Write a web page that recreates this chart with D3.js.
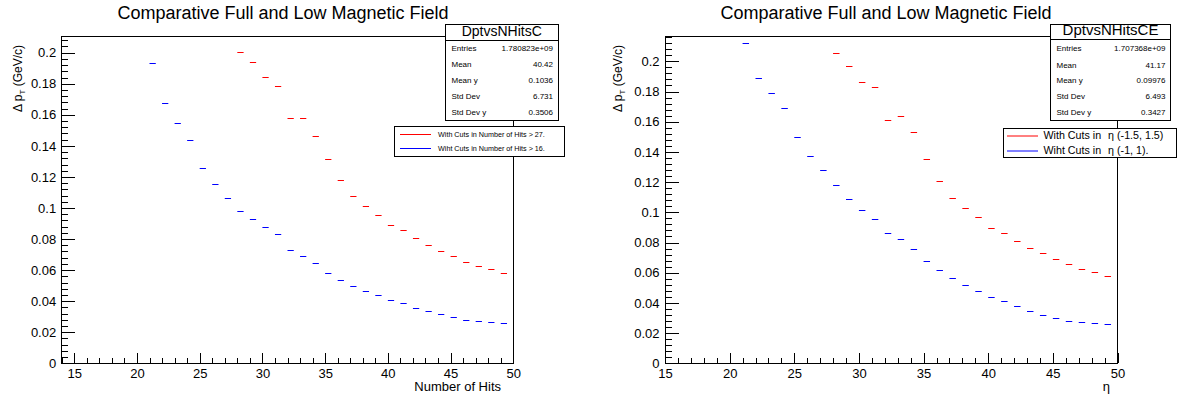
<!DOCTYPE html>
<html><head><meta charset="utf-8">
<script src="https://cdn.jsdelivr.net/npm/d3@7"></script>
<style>
body{margin:0;background:#fff}
svg{display:block}
text{font-family:"Liberation Sans",Arial,Helvetica,sans-serif;fill:#000}
</style>
</head><body>
<svg id="c" width="1177" height="401"></svg>
<script>
// ---------------- DATA ----------------
const blueBins = [21,22,23,24,25,26,27,28,29,30,31,32,33,34,35,36,37,38,39,40,41,42,43,44,45,46,47,48,49];
const redBins  = [28,29,30,31,32,33,34,35,36,37,38,39,40,41,42,43,44,45,46,47,48,49];
const binWidth = 0.5;

const leftBlue = [0.1931,0.1673,0.1546,0.1441,0.1260,0.1155,0.1066,0.0978,0.0931,0.0877,0.0830,0.0731,0.0694,0.0643,0.0581,0.0535,0.0497,0.0465,0.0439,0.0410,0.0387,0.0359,0.0335,0.0316,0.0297,0.0277,0.0271,0.0265,0.0260];
const leftRed  = [0.2002,0.1937,0.1845,0.1785,0.1581,0.1581,0.1466,0.1314,0.1181,0.1077,0.1013,0.0957,0.0890,0.0858,0.0806,0.0759,0.0726,0.0692,0.0652,0.0628,0.0606,0.0581];

const rightBlue = [0.2123,0.1887,0.1790,0.1693,0.1497,0.1371,0.1282,0.1178,0.1090,0.1013,0.0956,0.0861,0.0821,0.0759,0.0677,0.0616,0.0563,0.0521,0.0477,0.0439,0.0411,0.0377,0.0348,0.0320,0.0302,0.0282,0.0272,0.0267,0.0262];
const rightRed  = [0.2055,0.1967,0.1865,0.1832,0.1611,0.1640,0.1530,0.1353,0.1205,0.1095,0.1026,0.0967,0.0898,0.0865,0.0812,0.0764,0.0730,0.0693,0.0656,0.0625,0.0603,0.0576];

const xMajorTicks = [15,20,25,30,35,40,45,50];
const yMajorTicks = [0,0.02,0.04,0.06,0.08,0.1,0.12,0.14,0.16,0.18,0.2];

const chartTitle = "Comparative Full and Low Magnetic Field";
const statLabels = ["Entries","Mean","Mean y","Std Dev","Std Dev y"];
const leftStats  = ["1.780823e+09","40.42","0.1036","6.731","0.3506"];
const rightStats = ["1.707368e+09","41.17","0.09976","6.493","0.3427"];

// ---------------- DRAW ----------------
const svg = d3.select('#c');
const FONT = '"Liberation Sans",Arial,Helvetica,sans-serif';

function panel(cfg){
  const g = svg.append('g');
  const x = d3.scaleLinear().domain(cfg.xDomain).range([cfg.left, cfg.right]);
  const y = d3.scaleLinear().domain(cfg.yDomain).range([cfg.bottom, cfg.top]);

  // title
  g.append('text').attr('x', cfg.titleX).attr('y', 19).attr('text-anchor','middle')
    .attr('font-size', 18).text(chartTitle);

  // x minor ticks
  const xm = g.append('g').attr('transform',`translate(0,${cfg.bottom})`)
    .call(d3.axisBottom(x).tickValues(d3.range(Math.ceil(cfg.xDomain[0]), cfg.xDomain[1]+0.001, 1)).tickSize(-5).tickFormat(''));
  xm.select('.domain').remove();
  // x major
  const xa = g.append('g').attr('transform',`translate(0,${cfg.bottom})`)
    .call(d3.axisBottom(x).tickValues(xMajorTicks).tickSize(-10).tickPadding(5).tickFormat(d3.format('d')));
  xa.select('.domain').remove();
  xa.selectAll('text').attr('font-size',13).attr('font-family',FONT);

  // y minor
  const ym = g.append('g').attr('transform',`translate(${cfg.left},0)`)
    .call(d3.axisLeft(y).tickValues(d3.range(0, cfg.yDomain[1], 0.004)).tickSize(-6.5).tickFormat(''));
  ym.select('.domain').remove();
  const ya = g.append('g').attr('transform',`translate(${cfg.left},0)`)
    .call(d3.axisLeft(y).tickValues(yMajorTicks).tickSize(-13.5).tickPadding(5.5).tickFormat(d => String(+d.toFixed(2))));
  ya.select('.domain').remove();
  ya.selectAll('text').attr('font-size',13).attr('font-family',FONT);

  g.selectAll('.tick line').attr('stroke','#000').attr('shape-rendering','crispEdges');

  // frame
  g.append('rect').attr('x',cfg.left).attr('y',cfg.top)
    .attr('width',cfg.right-cfg.left).attr('height',cfg.bottom-cfg.top)
    .attr('fill','none').attr('stroke','#000').attr('shape-rendering','crispEdges');

  // axis titles
  g.append('text').attr('x', cfg.xTitleX).attr('y', 391).attr('text-anchor','end')
    .attr('font-size',13).text(cfg.xTitle);
  const yt = g.append('text').attr('transform',`translate(${cfg.yTitleX},45) rotate(-90)`)
    .attr('text-anchor','end').attr('font-size',12);
  yt.append('tspan').text('\u0394 p');
  yt.append('tspan').attr('font-size',8).attr('dy',3).text('T');
  yt.append('tspan').attr('dy',-3).text(' (GeV/c)');

  // data
  function series(bins, vals, color){
    g.append('g').selectAll('line').data(bins.map((b,i)=>({b, v:vals[i]}))).join('line')
      .attr('x1', d => x(d.b)).attr('x2', d => x(d.b + binWidth))
      .attr('y1', d => Math.round(y(d.v))+0.5).attr('y2', d => Math.round(y(d.v))+0.5)
      .attr('stroke', color).attr('stroke-width',1);
  }
  series(cfg.blueBins, cfg.blue, '#0000ff');
  series(cfg.redBins, cfg.red, '#ff0000');

  // stats box
  const sb = cfg.stats;
  g.append('rect').attr('x',sb.x).attr('y',sb.y).attr('width',sb.w).attr('height',sb.h)
    .attr('fill','#fff').attr('stroke','#000').attr('shape-rendering','crispEdges');
  g.append('line').attr('x1',sb.x).attr('x2',sb.x+sb.w).attr('y1',sb.headY).attr('y2',sb.headY)
    .attr('stroke','#000').attr('shape-rendering','crispEdges');
  g.append('text').attr('x',sb.x+sb.w/2).attr('y',sb.headY-4.5).attr('text-anchor','middle')
    .attr('font-size',sb.headFont).text(sb.name);
  statLabels.forEach((lab,i)=>{
    const yy = sb.rows[i];
    g.append('text').attr('x',sb.x+6).attr('y',yy).attr('dy','0.35em').attr('font-size',8).text(lab);
    g.append('text').attr('x',sb.x+sb.w-5).attr('y',yy).attr('dy','0.35em').attr('text-anchor','end')
      .attr('font-size',8).text(sb.values[i]);
  });

  // legend
  const lg = cfg.legend;
  g.append('rect').attr('x',lg.x).attr('y',lg.y).attr('width',lg.w).attr('height',lg.h)
    .attr('fill','#fff').attr('stroke','#000').attr('shape-rendering','crispEdges');
  lg.items.forEach((it,i)=>{
    const yy = lg.rowY[i];
    g.append('line').attr('x1',lg.lineX0).attr('x2',lg.lineX1).attr('y1',yy+0.5).attr('y2',yy+0.5)
      .attr('stroke',it.color);
    const t = g.append('text').attr('x',lg.textX).attr('y',yy).attr('dy','0.35em').attr('font-size',lg.font);
    if (it.sym) {
      t.append('tspan').text(it.label);
      t.append('tspan').attr('dx', lg.symGap).text(it.sym);
    } else t.text(it.label);
  });
}

panel({
  left:61.7, right:513.3, top:36.7, bottom:363.3,
  xDomain:[14,50], yDomain:[0,0.2103],
  titleX:283, xTitle:'Number of Hits', xTitleX:501, yTitleX:22,
  blueBins, redBins, blue:leftBlue, red:leftRed,
  stats:{x:445.5, y:24.5, w:112.5, h:95.5, headY:40.5, headFont:14, name:'DptvsNHitsC',
         rows:[48.3,64.3,80,95.7,112.5], values:leftStats},
  legend:{x:394.5, y:126.5, w:170, h:29.5, lineX0:400, lineX1:431, textX:438, font:7.2,
          rowY:[134,148], items:[
            {label:'With Cuts in Number of Hits > 27.', color:'#ff0000'},
            {label:'Wiht Cuts in Number of Hits > 16.', color:'#0000ff'}]}
});

panel({
  left:665, right:1117.5, top:36.7, bottom:363.3,
  xDomain:[15,50], yDomain:[0,(363.3-36.7)/1510],
  titleX:886, xTitle:'\u03b7', xTitleX:1110, yTitleX:622,
  blueBins, redBins, blue:rightBlue, red:rightRed,
  stats:{x:1050.5, y:24.5, w:120, h:95.5, headY:39.5, headFont:15, name:'DptvsNHitsCE',
         rows:[48.3,65,80,96,112.3], values:rightStats},
  legend:{x:1003.5, y:128.5, w:172.5, h:28.5, lineX0:1007, lineX1:1038, textX:1043.5, font:10.7,
          symGap:7, rowY:[135.5,150.5], items:[
            {label:'With Cuts in', sym:'\u03b7 (-1.5, 1.5)', color:'#ff0000'},
            {label:'Wiht Cuts in', sym:'\u03b7 (-1, 1).', color:'#0000ff'}]}
});
</script>
</body></html>
